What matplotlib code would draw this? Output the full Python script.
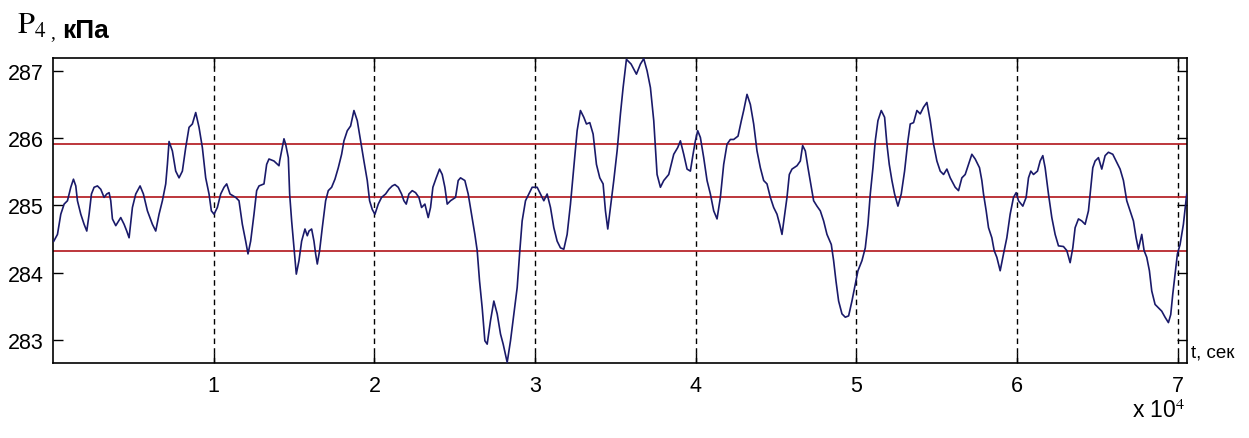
import matplotlib
matplotlib.use("Agg")
import matplotlib.pyplot as plt

plt.rcParams['font.family'] = ['Liberation Sans', 'DejaVu Sans']
plt.rcParams['mathtext.fontset'] = 'stix'

# time, s
t_s = [
    50, 278, 485, 692, 900, 1107, 1273, 1418, 1521, 1729, 1936, 2102, 2247, 2392,
    2558, 2765, 2973, 3180, 3346, 3491, 3594, 3698, 3906, 4216, 4424, 4589, 4735,
    4942, 5149, 5419, 5626, 5875, 6186, 6393, 6600, 6808, 7015, 7119, 7222, 7429,
    7637, 7844, 8051, 8259, 8466, 8673, 8881, 9088, 9295, 9502, 9710, 9855, 10021,
    10228, 10436, 10643, 10809, 11016, 11368, 11575, 11783, 11990, 12135, 12301,
    12508, 12674, 12820, 13130, 13296, 13441, 13752, 14063,
    14105, 14374, 14478, 14644, 14727, 14851, 14996, 15141, 15307, 15473, 15680,
    15825, 15929, 16095, 16240, 16344, 16447, 16592, 16758, 16966, 17131, 17339,
    17546, 17753, 17961, 18106, 18313, 18520, 18728, 18935, 19142, 19349, 19557,
    19702, 19868, 20034, 20241, 20448, 20697, 20904, 21112, 21277, 21485, 21692,
    21837, 21982, 22148, 22355, 22563, 22770, 22936, 23143, 23350, 23495, 23641,
    23848, 24055, 24221, 24387, 24532, 24739, 25050, 25216, 25361, 25631, 25838,
    26045, 26253, 26398, 26543, 26709, 26875, 27020, 27227, 27434, 27642, 27849,
    28015, 28264, 28471, 28678, 28886, 29051, 29196, 29404, 29611, 29818, 30129,
    30337, 30544, 30751, 30959, 31166, 31373, 31580, 31788, 31995, 32202, 32410,
    32617, 32824, 33032, 33197, 33405, 33612, 33819, 34027, 34234, 34379, 34524,
    34690, 34897, 35105, 35312, 35478, 35685, 35975, 36307, 36556, 36763, 36970,
    37178, 37385, 37489, 37592, 37800, 38007, 38318, 38629, 38878, 39044, 39251,
    39458, 39665, 39831, 39976, 40121, 40287, 40494, 40702, 40909, 41116, 41324,
    41531, 41738, 41946, 42153,
    42360, 42630, 42837, 42982, 43189, 43397, 43604, 43811, 44019, 44226, 44433,
    44641, 44848, 45055, 45221, 45366, 45532, 45677, 45822, 45988, 46299, 46506,
    46651, 46817, 46983, 47190, 47335, 47543, 47750, 47957, 48165, 48434, 48579,
    48724, 48890, 49098, 49305, 49512, 49719, 49927, 50093, 50342, 50549, 50715,
    50860, 51026, 51171, 51337, 51544, 51751, 51896, 52041, 52207, 52373, 52580,
    52787, 52995, 53202, 53347, 53554, 53762, 53969, 54176, 54383, 54591, 54798,
    55005, 55213, 55420, 55627, 55835, 56145,
    56352, 56560, 56767, 56974, 57181, 57389, 57658, 57803, 57907, 58073, 58218,
    58425, 58570, 58736, 58944, 59151, 59358, 59565, 59773, 59939, 60084, 60353,
    60560, 60706, 60851, 61017, 61265, 61431, 61597, 61742, 61949, 62157, 62364,
    62571, 62882, 63090, 63297, 63463, 63608, 63815, 64022, 64230, 64437, 64582,
    64707, 64852, 65059, 65266, 65474, 65681, 65951, 66158, 66407, 66614, 66821,
    67029, 67236, 67402, 67547, 67754, 67899, 68065, 68231, 68376, 68583, 68791,
    68998, 69205, 69413, 69558, 69683, 69828, 69973, 70139, 70346, 70553,
]

# pressure P4, kPa
p_kpa = [
    284.47, 284.57, 284.87, 285.02, 285.07, 285.27, 285.39, 285.29, 285.07, 284.87,
    284.72, 284.62, 284.87, 285.17, 285.27, 285.29, 285.24, 285.12, 285.17, 285.19,
    285.07, 284.80, 284.70, 284.82, 284.72, 284.62, 284.52, 284.97, 285.17, 285.29,
    285.17, 284.92, 284.72, 284.62, 284.87, 285.07, 285.32, 285.61, 285.95, 285.81,
    285.51, 285.41, 285.51, 285.86, 286.16, 286.21, 286.38, 286.16, 285.86, 285.41,
    285.17, 284.92, 284.87, 284.97, 285.17, 285.27, 285.32, 285.17, 285.12, 285.07,
    284.72, 284.47, 284.28, 284.47, 284.87, 285.22, 285.29, 285.32, 285.61, 285.69,
    285.66, 285.59,
    285.66, 285.99, 285.91, 285.71, 285.17, 284.77, 284.37, 283.98, 284.18, 284.47,
    284.65, 284.55, 284.62, 284.65, 284.47, 284.28, 284.13, 284.33, 284.67, 285.07,
    285.22, 285.27, 285.39, 285.56, 285.76, 285.96, 286.11, 286.18, 286.41, 286.26,
    285.96, 285.66, 285.37, 285.07, 284.94, 284.87, 285.02, 285.12, 285.17, 285.24,
    285.29, 285.31, 285.27, 285.17, 285.07, 285.02, 285.17, 285.22, 285.19, 285.12,
    284.97, 285.02, 284.82, 284.97, 285.27, 285.41, 285.54, 285.46, 285.27, 285.02,
    285.07, 285.12, 285.37, 285.41, 285.37, 285.17, 284.87, 284.57, 284.33, 283.88,
    283.48, 282.99, 282.94, 283.29, 283.58, 283.39, 283.09,
    282.94, 282.67, 282.99, 283.38, 283.78, 284.33, 284.77, 285.07, 285.17, 285.27,
    285.27, 285.17, 285.07, 285.17, 284.97, 284.67, 284.47, 284.37, 284.35, 284.57,
    285.02, 285.56, 286.11, 286.41, 286.31, 286.21, 286.23, 286.06, 285.61, 285.41,
    285.32, 284.92, 284.65, 284.97, 285.37, 285.81, 286.36, 286.75, 287.17, 287.10,
    286.95, 287.10, 287.18, 287.00, 286.75, 286.26, 285.86, 285.46, 285.27, 285.37,
    285.46, 285.76, 285.86, 285.96, 285.76, 285.54, 285.51, 285.76, 285.96, 286.11,
    286.01, 285.71, 285.37, 285.17, 284.92, 284.80, 285.12, 285.61, 285.91, 285.98,
    285.98, 286.03, 286.26, 286.41, 286.65, 286.50, 286.21, 285.81, 285.56, 285.37,
    285.32, 285.12, 284.97, 284.87, 284.72, 284.57, 284.87, 285.12, 285.46, 285.54,
    285.59, 285.66, 285.89, 285.81, 285.56, 285.27, 285.07, 284.99, 284.92, 284.77,
    284.57, 284.42, 284.18, 283.88, 283.58, 283.39, 283.34, 283.36, 283.58, 283.83,
    284.03, 284.18, 284.37, 284.72, 285.17, 285.56, 285.96, 286.26, 286.41, 286.31,
    285.91, 285.61, 285.37, 285.17, 284.99, 285.17, 285.51, 285.96, 286.21, 286.23,
    286.41, 286.36, 286.46, 286.53, 286.26, 285.91, 285.66, 285.51, 285.46, 285.54,
    285.41, 285.27,
    285.22, 285.41, 285.46, 285.61, 285.76, 285.69, 285.56, 285.37, 285.17, 284.92,
    284.67, 284.52, 284.33, 284.23, 284.03, 284.28, 284.52, 284.87, 285.12, 285.19,
    285.07, 284.99, 285.12, 285.41, 285.51, 285.46, 285.51, 285.66, 285.74, 285.56,
    285.17, 284.82, 284.57, 284.40, 284.39, 284.33, 284.15, 284.37, 284.67, 284.80,
    284.77, 284.72, 284.92, 285.27, 285.56, 285.66, 285.71, 285.54, 285.74, 285.79,
    285.76, 285.66, 285.54, 285.37, 285.07, 284.92, 284.77, 284.52, 284.35, 284.57,
    284.33, 284.23, 284.03, 283.73, 283.53, 283.48, 283.43, 283.34, 283.26, 283.38,
    283.68, 283.98, 284.28, 284.42, 284.72, 285.17,
]

p_mean = 285.13
p_upper = 285.92
p_lower = 284.33

x_ticks = [10000, 20000, 30000, 40000, 50000, 60000, 70000]
x_labels = ['1', '2', '3', '4', '5', '6', '7']
y_ticks = [283, 284, 285, 286, 287]

fig = plt.figure(figsize=(12.49, 4.39), dpi=100)
ax = fig.add_axes([53 / 1249, 1 - 364 / 439, 1134 / 1249, 305 / 439])

for v in x_ticks:
    ax.axvline(v, color='black', lw=1.0, ls=(0, (4, 3)), zorder=1)
for lvl in (p_upper, p_mean, p_lower):
    ax.axhline(lvl, color='#b8262c', lw=1.3, zorder=2)

ax.plot(t_s, p_kpa, color='#1a1a6a', lw=1.2, zorder=3)

ax.set_xlim(0, 70570)
ax.set_ylim(282.66, 287.19)
ax.set_xticks(x_ticks)
ax.set_xticklabels(x_labels)
ax.set_yticks(y_ticks)
ax.tick_params(direction='in', length=7, width=1.0, top=True, right=True,
               labelsize=15.5, colors='black')
ax.tick_params(axis='y', pad=7)
ax.tick_params(axis='x', pad=9)
for s in ax.spines.values():
    s.set_linewidth(1.2)

# labels like the MATLAB figure
fig.text(17 / 1249, 1 - 34 / 439, r'$\mathrm{P}_{4}$', fontsize=22, va='baseline')
fig.text(50 / 1249, 1 - 38 / 439, ',', fontsize=14, va='baseline',
         family='Liberation Serif')
fig.text(62 / 1249, 1 - 38 / 439, 'кПа', fontsize=19, fontweight='bold',
         va='baseline')
fig.text(1191 / 1249, 1 - 353 / 439, 't, сек', fontsize=13.5, va='center')
fig.text(1132 / 1249, 1 - 418 / 439, r'x 10$^{4}$', fontsize=16.5, va='baseline')

fig.savefig('out.png', dpi=100)
